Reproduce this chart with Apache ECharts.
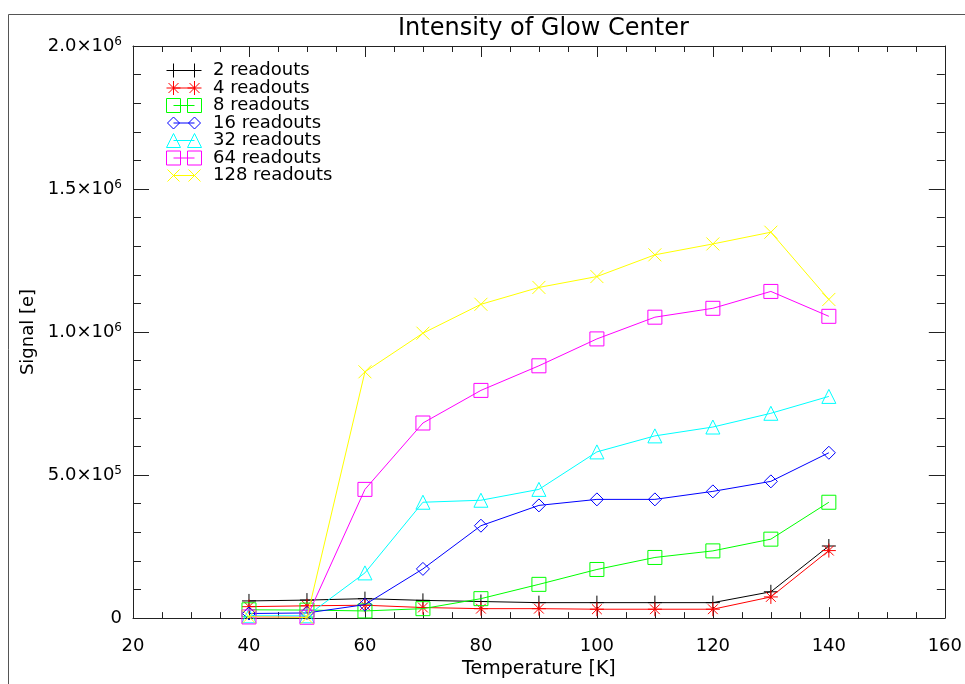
<!DOCTYPE html>
<html>
<head>
<meta charset="utf-8">
<script src="https://cdn.jsdelivr.net/npm/echarts@6/dist/echarts.min.js"></script>
<style>html,body{margin:0;padding:0;background:#fff;}#c{width:965px;height:684px;}</style>
</head>
<body>
<div id="c"></div>
<script>
// ---- data ----
var temperatures = [40, 50, 60, 70, 80, 90, 100, 110, 120, 130, 140];
var readouts2   = [60000, 63000, 68000, 62000, 58000, 54000, 54000, 54000, 54000, 92000, 252000];
var readouts4   = [40000, 43000, 45000, 37000, 33000, 33000, 31000, 31000, 31000, 74000, 236000];
var readouts8   = [29000, 28000, 25000, 33000, 68000, 118000, 170000, 212000, 235000, 276000, 405000];
var readouts16  = [16000, 18000, 47000, 172000, 323000, 394000, 415000, 415000, 443000, 478000, 578000];
var readouts32  = [8000, 8000, 158000, 405000, 412000, 450000, 581000, 637000, 668000, 716000, 775000];
var readouts64  = [4000, 3000, 450000, 682000, 796000, 882000, 976000, 1052000, 1083000, 1142000, 1055000];
var readouts128 = [5000, 2000, 861000, 996000, 1097000, 1156000, 1194000, 1270000, 1308000, 1349000, 1114000];
var seriesNames = ['2 readouts', '4 readouts', '8 readouts', '16 readouts', '32 readouts', '64 readouts', '128 readouts'];
var xTicks = [20, 40, 60, 80, 100, 120, 140, 160];
var yTicks = [0, 500000, 1000000, 1500000, 2000000];

// ---- styles ----
var FONT = 'DejaVu Sans';
var colors = ['#000000', '#ff0000', '#00ff00', '#0000ff', '#00ffff', '#ff00ff', '#ffff00'];
var kinds = ['plus', 'asterisk', 'square', 'diamond', 'triangle', 'square', 'cross'];
var symbolPaths = {
  plus: 'path://M5,0L5,10M0,5L10,5',
  asterisk: 'path://M5,0L5,10M0,5L10,5M1.5,1.5L8.5,8.5M8.5,1.5L1.5,8.5',
  square: 'path://M0,0L10,0L10,10L0,10Z',
  diamond: 'path://M5,0L10,5L5,10L0,5Z',
  triangle: 'path://M5,0L10,10L0,10Z',
  cross: 'path://M0,0L10,10M10,0L0,10'
};
var symSizes = [14, 14, 14, 13, 14, 14, 13];
var allData = [readouts2, readouts4, readouts8, readouts16, readouts32, readouts64, readouts128];

function yFmt(v) {
  if (v === 0) return '{a|0}';
  var e = Math.floor(Math.log10(v) + 1e-9);
  var m = (v / Math.pow(10, e)).toFixed(1);
  return '{a|' + m + '×10}{s|' + e + '}';
}

var series = allData.map(function (d, i) {
  return {
    name: seriesNames[i],
    type: 'line',
    data: temperatures.map(function (t, j) { return [t, d[j]]; }),
    symbol: symbolPaths[kinds[i]],
    symbolSize: symSizes[i],
    showAllSymbol: true,
    itemStyle: { color: 'none', borderColor: colors[i], borderWidth: 1 },
    lineStyle: { color: colors[i], width: 1 },
    emphasis: { disabled: true },
    animation: false,
    z: 2 + i
  };
});

// legend icon pieces: a symbol at local centre (cx, 7), half size h
function ln(a, b, c, d) { return { type: 'line', shape: { x1: a, y1: b, x2: c, y2: d } }; }
function iconParts(kind, cx) {
  var h = 7;
  switch (kind) {
    case 'plus': return [ln(cx, 0, cx, 14), ln(cx - h, 7, cx + h, 7)];
    case 'asterisk': return [ln(cx, 0, cx, 14), ln(cx - h, 7, cx + h, 7), ln(cx - 5, 2, cx + 5, 12), ln(cx + 5, 2, cx - 5, 12)];
    case 'square': return [{ type: 'rect', shape: { x: cx - h, y: 0, width: 14, height: 14 } }];
    case 'diamond': return [{ type: 'polygon', shape: { points: [[cx, 1], [cx + 6, 7], [cx, 13], [cx - 6, 7]] } }];
    case 'triangle': return [{ type: 'polygon', shape: { points: [[cx, 0], [cx + h, 14], [cx - h, 14]] } }];
    case 'cross': return [ln(cx - 6, 1, cx + 6, 13), ln(cx + 6, 1, cx - 6, 13)];
  }
  return [];
}

var legendGraphics = seriesNames.map(function (n, i) {
  var st = { stroke: colors[i], fill: 'none', lineWidth: 1 };
  var parts = [ln(7, 7, 28, 7)].concat(iconParts(kinds[i], 7), iconParts(kinds[i], 28));
  parts.forEach(function (p) { p.style = st; });
  parts.push({ type: 'text', x: 46.5, y: 7, style: { text: n, fontFamily: FONT, fontSize: 18, fill: '#000', verticalAlign: 'middle', align: 'left' } });
  return { type: 'group', x: 166.5, y: 63.5 + i * 17.5, silent: true, children: parts };
});

var axisLineStyle = { color: '#222', width: 1 };
var option = {
  backgroundColor: '#fff',
  animation: false,
  title: {
    text: 'Intensity of Glow Center',
    left: 393, top: 12,
    textStyle: { fontFamily: FONT, fontSize: 24, fontWeight: 'normal', color: '#000' }
  },
  graphic: [{
    type: 'rect', z: -10, silent: true,
    shape: { x: 8.5, y: 14.5, width: 1000, height: 700 },
    style: { fill: 'none', stroke: '#555', lineWidth: 1 }
  }].concat(legendGraphics),
  grid: { left: 133, right: 17, top: 46, bottom: 60 },
  xAxis: [{
    type: 'value', min: xTicks[0], max: xTicks[xTicks.length - 1], interval: 20,
    name: 'Temperature [K]', nameLocation: 'middle', nameGap: 40,
    nameTextStyle: { fontFamily: FONT, fontSize: 19, color: '#000' },
    axisLine: { show: true, onZero: false, lineStyle: axisLineStyle },
    axisTick: { show: true, inside: true, length: 11, lineStyle: axisLineStyle },
    minorTick: { show: true, splitNumber: 4, length: 6, lineStyle: axisLineStyle },
    splitLine: { show: false },
    axisLabel: { fontFamily: FONT, fontSize: 18, color: '#000', margin: 19 }
  }, {
    type: 'value', position: 'top', min: xTicks[0], max: xTicks[xTicks.length - 1], interval: 20,
    axisLine: { show: true, onZero: false, lineStyle: axisLineStyle },
    axisTick: { show: true, inside: true, length: 11, lineStyle: axisLineStyle },
    minorTick: { show: true, splitNumber: 4, length: 6, lineStyle: axisLineStyle },
    splitLine: { show: false },
    axisLabel: { show: false }
  }],
  yAxis: [{
    type: 'value', min: yTicks[0], max: yTicks[yTicks.length - 1], interval: 500000,
    name: 'Signal [e]', nameLocation: 'middle', nameGap: 88, nameRotate: 90,
    nameTextStyle: { fontFamily: FONT, fontSize: 18, color: '#000' },
    axisLine: { show: true, onZero: false, lineStyle: axisLineStyle },
    axisTick: { show: true, inside: true, length: 16, lineStyle: axisLineStyle },
    minorTick: { show: true, splitNumber: 5, length: 8, lineStyle: axisLineStyle },
    splitLine: { show: false },
    axisLabel: {
      margin: 11, formatter: yFmt,
      rich: {
        a: { fontFamily: FONT, fontSize: 18, color: '#000' },
        s: { fontFamily: FONT, fontSize: 12, color: '#000', padding: [0, 0, 9, 0] }
      }
    }
  }, {
    type: 'value', position: 'right', min: yTicks[0], max: yTicks[yTicks.length - 1], interval: 500000,
    axisLine: { show: true, onZero: false, lineStyle: axisLineStyle },
    axisTick: { show: true, inside: true, length: 16, lineStyle: axisLineStyle },
    minorTick: { show: true, splitNumber: 5, length: 8, lineStyle: axisLineStyle },
    splitLine: { show: false },
    axisLabel: { show: false }
  }],
  series: series
};

var chart = echarts.init(document.getElementById('c'), null, { renderer: 'canvas' });
chart.setOption(option);
</script>
</body>
</html>
